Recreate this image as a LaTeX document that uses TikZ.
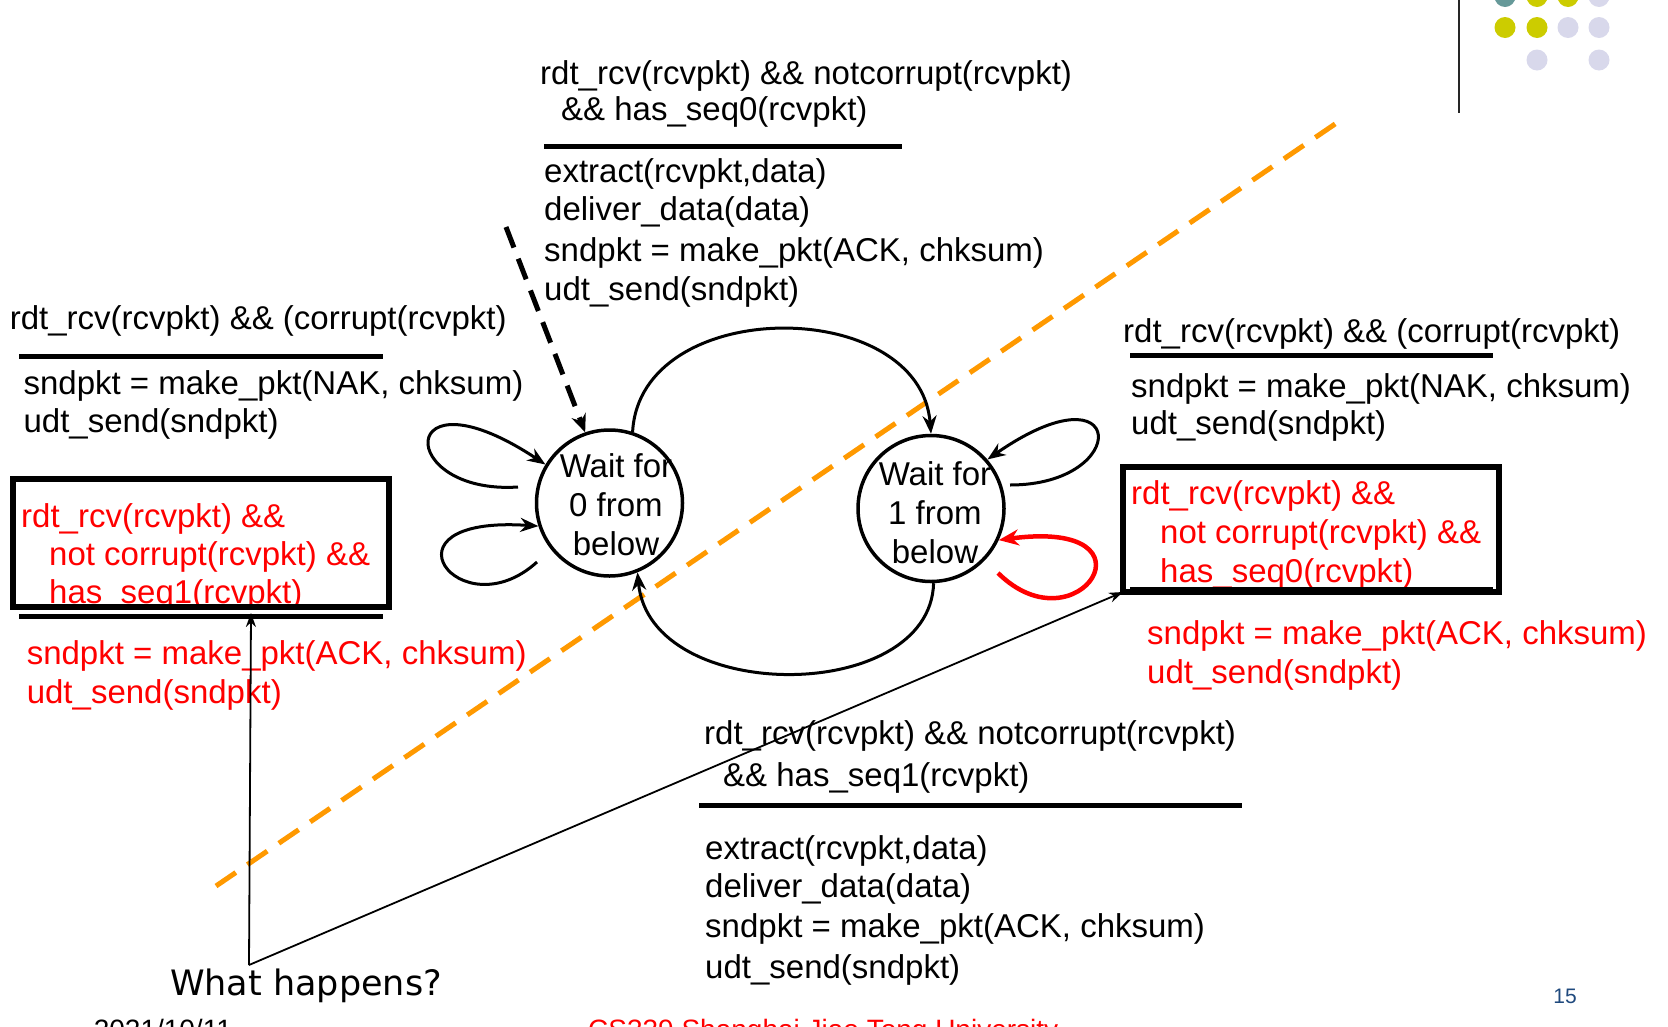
\documentclass[tikz,border=0pt]{standalone}
\usepackage{fontspec}
\setmainfont{Liberation Sans}
\newfontfamily\handfont{DejaVu Sans}
\usetikzlibrary{arrows.meta}
\definecolor{rdtred}{RGB}{255,0,0}
\definecolor{dashorange}{RGB}{255,153,0}
\definecolor{dotteal}{RGB}{102,153,153}
\definecolor{dotyellow}{RGB}{204,204,0}
\definecolor{dotlav}{RGB}{216,216,235}
\definecolor{numblue}{RGB}{31,73,125}
\begin{document}
\begin{tikzpicture}[x=1pt,y=-1pt,
  lbl/.style={anchor=west, inner sep=0pt, yshift=-3.5pt, font=\fontsize{33}{39.5}\selectfont, text height=24pt, text depth=7pt},
  redlbl/.style={lbl, text=rdtred},
  bar/.style={line width=5pt},
  box/.style={draw, line width=6pt, inner sep=0pt, outer sep=0pt, anchor=north west},
  state/.style={draw, circle, line width=3.5pt, minimum size=146pt, inner sep=0pt},
  statetext/.style={align=center, inner sep=0pt, yshift=-1.5pt, font=\fontsize{33}{38.8}\selectfont},
  trans/.style={line width=3pt, -{Stealth[length=18pt,width=14pt]}},
  redtrans/.style={line width=4.5pt, draw=rdtred, -{Stealth[length=20pt,width=16pt]}, color=rdtred},
  note/.style={line width=1.8pt, -{Stealth[length=14pt,width=10pt]}}
]
\useasboundingbox (0,0) rectangle (1668,1026);
\clip (0,0) rectangle (1668,1026);

% orange dashed divider
\coordinate (o1) at (216,886);
\coordinate (o2) at (1338,122);
\draw[dashorange, line width=5pt, dash pattern=on 24pt off 14pt] (o1) -- (o2);

% top-right decoration
\draw[line width=2pt, black!85] (1459,0) -- (1459,113);
\fill[dotteal]   (1505,-3.5) circle (10.5);
\fill[dotyellow] (1537,-3.5) circle (10.5);
\fill[dotyellow] (1568,-3.5) circle (10.5);
\fill[dotlav]    (1599,-3.5) circle (10.5);
\fill[dotyellow] (1505,27.5) circle (10.5);
\fill[dotyellow] (1537,27.5) circle (10.5);
\fill[dotlav]    (1568,27.5) circle (10.5);
\fill[dotlav]    (1599,27.5) circle (10.5);
\fill[dotlav]    (1537,60) circle (10.5);
\fill[dotlav]    (1599,60) circle (10.5);

% states
\node[state] (s0) at (609.5,503) {};
\node[statetext] (t0) at (616,503) {Wait for\\0 from\\below};
\node[state] (s1) at (931,508.5) {};
\node[statetext] (t1) at (935,511) {Wait for\\1 from\\below};

% top label
\node[lbl] (a1) at (540,72) {rdt\_rcv(rcvpkt) \&\& notcorrupt(rcvpkt)};
\node[lbl] (a2) at (561,108.5) {\&\& has\_seq0(rcvpkt)};
\draw[bar] (544,146) -- (902,146);
\node[lbl] (a3) at (544,170) {extract(rcvpkt,data)};
\node[lbl] (a4) at (544,208.5) {deliver\_data(data)};
\node[lbl] (a5) at (544,249) {sndpkt = make\_pkt(ACK, chksum)};
\node[lbl] (a6) at (544,288) {udt\_send(sndpkt)};

% left label
\node[lbl] (b1) at (9.6,317) {rdt\_rcv(rcvpkt) \&\& (corrupt(rcvpkt)};
\draw[bar] (19,356) -- (383,356);
\node[lbl] (b2) at (23.4,382) {sndpkt = make\_pkt(NAK, chksum)};
\node[lbl] (b3) at (23.4,420) {udt\_send(sndpkt)};

% left red box
\node[redlbl] (c1) at (21,515) {rdt\_rcv(rcvpkt) \&\&};
\node[redlbl] (c2) at (49,553) {not corrupt(rcvpkt) \&\&};
\node[redlbl] (c3) at (49,591.5) {has\_seq1(rcvpkt)};
\node[box, minimum width=376pt, minimum height=128pt] (lbox) at (12.6,478.5) {};
\draw[bar] (19,616) -- (383,616);
\coordinate (lbar) at (251,613);
\node[redlbl] (c4) at (26.6,652) {sndpkt = make\_pkt(ACK, chksum)};
\node[redlbl] (c5) at (26.6,691.5) {udt\_send(sndpkt)};

% right label
\node[lbl] (d1) at (1123,330) {rdt\_rcv(rcvpkt) \&\& (corrupt(rcvpkt)};
\draw[bar] (1130,355) -- (1493,355);
\node[lbl] (d2) at (1131,385) {sndpkt = make\_pkt(NAK, chksum)};
\node[lbl] (d3) at (1131,422) {udt\_send(sndpkt)};

% right red box
\node[redlbl] (e1) at (1131,492.5) {rdt\_rcv(rcvpkt) \&\&};
\node[redlbl] (e2) at (1160,531) {not corrupt(rcvpkt) \&\&};
\node[redlbl] (e3) at (1160,570) {has\_seq0(rcvpkt)};
\node[box, minimum width=376pt, minimum height=125pt] (rbox) at (1123,467) {};
\draw[bar] (1130,589) -- (1493,589);
\node[redlbl] (e4) at (1147,632) {sndpkt = make\_pkt(ACK, chksum)};
\node[redlbl] (e5) at (1147,671) {udt\_send(sndpkt)};

% bottom label
\node[lbl] (f1) at (704,732) {rdt\_rcv(rcvpkt) \&\& notcorrupt(rcvpkt)};
\node[lbl] (f2) at (723,774.5) {\&\& has\_seq1(rcvpkt)};
\draw[bar] (699,805) -- (1241.5,805);
\node[lbl] (f3) at (705,847) {extract(rcvpkt,data)};
\node[lbl] (f4) at (705,885) {deliver\_data(data)};
\node[lbl] (f5) at (705,925.5) {sndpkt = make\_pkt(ACK, chksum)};
\node[lbl] (f6) at (705,966) {udt\_send(sndpkt)};

% transitions
\coordinate (init) at (506,227);
\draw[line width=5pt, dash pattern=on 22pt off 12pt, -{Stealth[length=18pt,width=15pt]}] (init) -- (s0.109);
\draw[trans] (s0.72) .. controls (640,295) and (920,295) .. (s1.90);
\draw[trans] (s1.-88) .. controls (930,705) and (650,705) .. (s0.-68);
\coordinate (ul) at (518,487);
\draw[trans] (ul) .. controls (395,495) and (395,365) .. (s0.149);
\coordinate (ll) at (537,562);
\draw[trans] (ll) .. controls (460,632) and (372,515) .. (s0.198);
\coordinate (ur) at (1010,485);
\draw[trans] (ur) .. controls (1132,485) and (1128,362) .. (s1.41.5);
\coordinate (lr) at (998,573);
\draw[redtrans] (lr) .. controls (1078,652) and (1165,518) .. (s1.-25);

% annotation
\node[inner sep=0pt, font=\handfont\fontsize{35}{40}\selectfont] (wh) at (306,986) {What happens?};
\coordinate (wp) at (249,965);
\draw[note] (wp) -- (lbar);
\draw[note] (wp) -- (rbox.south west);

% footer
\node[anchor=base, inner sep=0pt, text=numblue, font=\fontsize{21}{25}\selectfont] (pg) at (1565,1003) {15};
\node[anchor=base west, inner sep=0pt, font=\fontsize{28}{33}\selectfont] (date) at (93.6,1039) {2021/10/11};
\node[anchor=base west, inner sep=0pt, text=rdtred, font=\fontsize{28}{33}\selectfont] (course) at (588,1039) {CS339 Shanghai Jiao Tong University};
\end{tikzpicture}
\end{document}
